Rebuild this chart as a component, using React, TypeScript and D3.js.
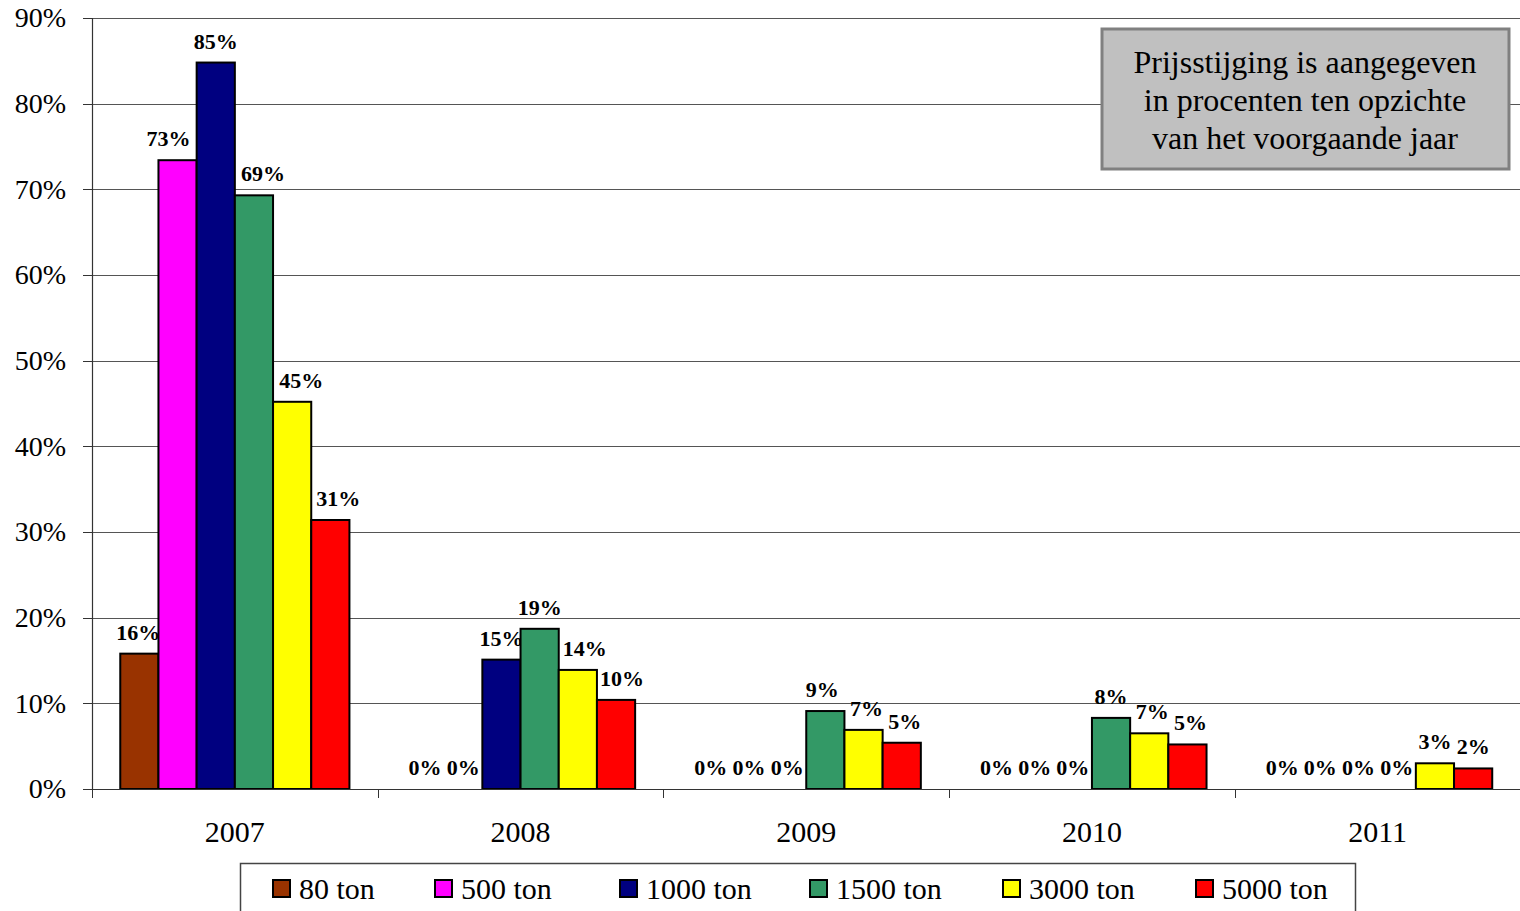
import React from "react";
import * as d3 from "d3";

const years = ["2007", "2008", "2009", "2010", "2011"];
const seriesNames = ["80 ton", "500 ton", "1000 ton", "1500 ton", "3000 ton", "5000 ton"];
const seriesColors = ["#993300", "#FF00FF", "#000080", "#339966", "#FFFF00", "#FF0000"];
// values per series, in percent, per year
const v80 = [15.8, 0, 0, 0, 0];
const v500 = [73.4, 0, 0, 0, 0];
const v1000 = [84.8, 15.1, 0, 0, 0];
const v1500 = [69.3, 18.7, 9.1, 8.3, 0];
const v3000 = [45.2, 13.9, 6.9, 6.5, 3.0];
const v5000 = [31.4, 10.4, 5.4, 5.2, 2.4];
const seriesValues = [v80, v500, v1000, v1500, v3000, v5000];
const yTicks = [0, 10, 20, 30, 40, 50, 60, 70, 80, 90];
const noteLines = ["Prijsstijging is aangegeven", "in procenten ten opzichte", "van het voorgaande jaar"];
// small horizontal label nudges (styling), [year][series]
const labelNudge = [
  [-1, -9, 0, 9, 9, 8],
  [0, 0, 0, 0, 7, 6],
  [0, 0, 0, -3, 3, 3],
  [0, 0, 0, 0, 3, 3],
  [0, 0, 0, 0, 0, 0],
];

const FONT = "'Liberation Serif', 'Times New Roman', serif";

export default function App() {
  const W = 1520, H = 911;
  const left = 92, right = 1520.5, top = 18, bottom = 789;
  const x0 = d3.scaleBand<string>().domain(years).range([left, right]).paddingInner(0).paddingOuter(0);
  const x1 = d3.scaleBand<string>().domain(seriesNames).range([0, x0.bandwidth()]).paddingInner(0).paddingOuter(0.74);
  const y = d3.scaleLinear().domain([0, 90]).range([bottom, top]);
  const fmt = (v: number) => `${Math.round(v)}%`;

  const legendX = [273, 435, 620, 810, 1003, 1196];

  return (
    <svg width={W} height={H} style={{ position: "absolute", left: 0, top: 0, background: "#fff" }} fontFamily={FONT}>
      {/* gridlines */}
      {yTicks.slice(1).map((t) => (
        <line key={"g" + t} x1={left} x2={W} y1={Math.round(y(t)) + 0.5} y2={Math.round(y(t)) + 0.5} stroke="#555" strokeWidth={1} />
      ))}
      {/* y ticks + labels */}
      {yTicks.map((t) => (
        <g key={"yt" + t}>
          <line x1={83} x2={left} y1={Math.round(y(t)) + 0.5} y2={Math.round(y(t)) + 0.5} stroke="#333" />
          <text x={66} y={y(t)} dy="0.33em" textAnchor="end" fontSize={28} fill="#000">{t}%</text>
        </g>
      ))}
      {/* bars */}
      {years.map((yr, i) => (
        <g key={yr} transform={`translate(${x0(yr)},0)`}>
          {seriesNames.map((s, j) => {
            const v = seriesValues[j][i];
            const bx = x1(s)!;
            const bw = x1.bandwidth();
            return (
              <g key={s}>
                {v > 0 && (
                  <rect x={bx} y={y(v)} width={bw} height={bottom - y(v)} fill={seriesColors[j]} stroke="#000" strokeWidth={2} />
                )}
                <text x={bx + bw / 2 + labelNudge[i][j]} y={y(v) - 14} textAnchor="middle" fontSize={22} fontWeight="bold" fill="#000">
                  {fmt(v)}
                </text>
              </g>
            );
          })}
        </g>
      ))}
      {/* axes */}
      <line x1={left + 0.5} x2={left + 0.5} y1={top} y2={bottom} stroke="#333" strokeWidth={1.2} />
      <line x1={left} x2={W} y1={bottom + 0.5} y2={bottom + 0.5} stroke="#333" strokeWidth={1.2} />
      {years.map((yr) => (
        <line key={"xt" + yr} x1={Math.round(x0(yr)!) + 0.5} x2={Math.round(x0(yr)!) + 0.5} y1={bottom} y2={798} stroke="#333" />
      ))}
      {years.map((yr) => (
        <text key={"xl" + yr} x={x0(yr)! + x0.bandwidth() / 2} y={842} textAnchor="middle" fontSize={30} fill="#000">{yr}</text>
      ))}
      {/* note box */}
      <rect x={1102} y={29} width={407} height={140} fill="#C0C0C0" stroke="#808080" strokeWidth={3} />
      {noteLines.map((l, k) => (
        <text key={"n" + k} x={1305} y={73 + k * 38} textAnchor="middle" fontSize={32} fill="#000">{l}</text>
      ))}
      {/* legend */}
      <rect x={240.5} y={863.5} width={1115} height={60} fill="#fff" stroke="#444" strokeWidth={1.5} />
      {seriesNames.map((s, j) => (
        <g key={"lg" + s}>
          <rect x={legendX[j]} y={880} width={17} height={17} fill={seriesColors[j]} stroke="#000" strokeWidth={2} />
          <text x={legendX[j] + 26} y={899} fontSize={30} fill="#000">{s}</text>
        </g>
      ))}
    </svg>
  );
}
